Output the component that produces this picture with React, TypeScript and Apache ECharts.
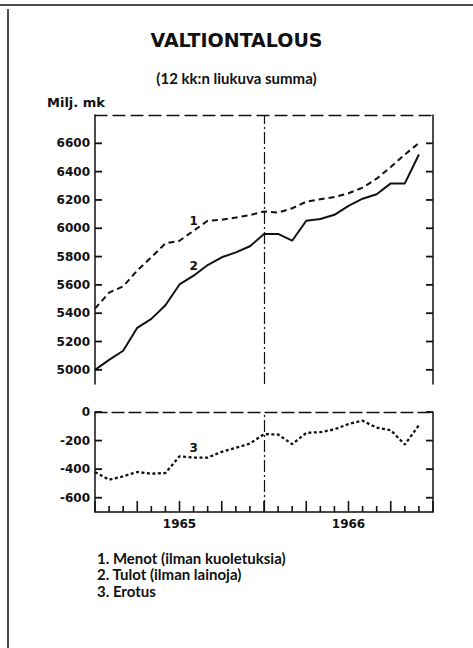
import React, { useEffect, useRef } from "react";
import * as echarts from "echarts";

// Month index 0 = end of Dec 1964 ... 23 = end of Nov 1966
const menot = [5433, 5545, 5590, 5702, 5795, 5893, 5912, 5982, 6053, 6060, 6076, 6093, 6118, 6111, 6141, 6188, 6205, 6221, 6247, 6287, 6350, 6432, 6521, 6602];
const tulot = [5000, 5070, 5135, 5297, 5360, 5456, 5603, 5665, 5740, 5795, 5830, 5873, 5959, 5960, 5912, 6053, 6065, 6095, 6158, 6209, 6240, 6317, 6317, 6521];
const erotus = [-420, -474, -450, -420, -432, -427, -310, -319, -319, -279, -251, -221, -155, -157, -225, -146, -141, -122, -84, -61, -110, -127, -228, -92];

const seriesNames = ["1. Menot (ilman kuoletuksia)", "2. Tulot (ilman lainoja)", "3. Erotus"];
const seriesTags = ["1", "2", "3"];
const upperTicks = [5000, 5200, 5400, 5600, 5800, 6000, 6200, 6400, 6600];
const lowerTicks = [-600, -400, -200, 0];
const monthTicks = [0, 1, 2, 3, 4, 5, 6, 7, 8, 9, 10, 11, 12, 13, 14, 15, 16, 17, 18, 19, 20, 21, 22, 23, 24];
const quarterTicks = [0, 3, 6, 9, 12, 15, 18, 21, 24];
const yearLabels = ["1965", "1966"];
const yearCenters = [6, 18];
const yearBoundary = 12;
const labelIndex = 7;

const INK = "#111";
const NUM_FONT = "DejaVu Sans";
const TXT_FONT = "Lato";

function toData(values: number[], tag: string) {
  return values.map((v, i) =>
    i === labelIndex
      ? {
          value: [i, v],
          label: {
            show: true,
            formatter: tag,
            position: "top",
            distance: 4,
            fontFamily: NUM_FONT,
            fontWeight: "bold",
            fontSize: 12,
            color: INK,
          },
        }
      : [i, v]
  );
}

const markLineCfg = {
  silent: true,
  symbol: ["none", "none"],
  label: { show: false },
  lineStyle: { color: INK, width: 1.2, type: [12, 3, 2, 3] },
  data: [{ xAxis: yearBoundary }],
};

const frameGraphic = [
  { id: "frameTop", type: "line", shape: { x1: 0, y1: 5, x2: 473, y2: 5 }, style: { stroke: INK, lineWidth: 1.5 } },
  { id: "frameLeft", type: "line", shape: { x1: 8, y1: 9, x2: 8, y2: 648 }, style: { stroke: INK, lineWidth: 1.5 } },
];

export default function App() {
  const ref = useRef<HTMLDivElement>(null);
  useEffect(() => {
    if (!ref.current) return;
    const chart = echarts.init(ref.current, undefined, { renderer: "svg" });

    const yMain = (gridIndex: number, pos: string, min: number, max: number, splitNumber: number, ticks: number[], showLabels: boolean) => ({
      type: "value",
      gridIndex,
      position: pos,
      min,
      max,
      splitNumber,
      axisLine: { show: true, onZero: false, lineStyle: { color: INK, width: 1.5 } },
      axisTick: { show: false },
      axisLabel: {
        show: showLabels,
        showMinLabel: true,
        showMaxLabel: true,
        margin: 5,
        formatter: (v: number) => (ticks.indexOf(v) >= 0 ? String(v) : ""),
        fontFamily: NUM_FONT,
        fontWeight: "bold",
        fontSize: 12,
        color: INK,
      },
      splitLine: { show: false },
    });

    chart.setOption({
      animation: false,
      backgroundColor: "#fff",
      title: [
        {
          text: "VALTIONTALOUS",
          left: "center",
          top: 30,
          padding: 0,
          textStyle: { fontFamily: NUM_FONT, fontWeight: "bold", fontSize: 19, color: INK },
        },
        {
          text: "(12 kk:n liukuva summa)",
          left: "center",
          top: 70,
          padding: 0,
          textStyle: { fontFamily: TXT_FONT, fontWeight: "bold", fontSize: 15, color: INK },
        },
        {
          text: "Milj. mk",
          left: 47,
          top: 96,
          padding: 0,
          textStyle: { fontFamily: NUM_FONT, fontWeight: "bold", fontSize: 13, color: INK },
        },
      ],
      legend: {
        data: seriesNames,
        orient: "vertical",
        left: 92,
        top: 550,
        padding: 0,
        itemWidth: 0,
        itemHeight: 14,
        itemGap: 1.5,
        icon: "rect",
        selectedMode: false,
        textStyle: { fontFamily: TXT_FONT, fontWeight: "bold", fontSize: 15, lineHeight: 15, color: INK },
      },
      graphic: frameGraphic,
      grid: [
        { left: 95, right: 40, top: 115, height: 269 },
        { left: 95, right: 40, top: 412, height: 100 },
      ],
      xAxis: [
        {
          type: "value",
          gridIndex: 0,
          position: "top",
          min: 0,
          max: 24,
          axisLine: { show: true, onZero: false, lineStyle: { color: INK, width: 1.3, type: [12, 6] } },
          axisTick: { show: false },
          axisLabel: { show: false },
          splitLine: { show: false },
        },
        {
          type: "value",
          gridIndex: 1,
          position: "bottom",
          min: 0,
          max: 24,
          interval: 3,
          axisLine: { show: true, onZero: false, lineStyle: { color: INK, width: 1.5 } },
          axisTick: { show: false },
          axisLabel: {
            show: true,
            margin: 6,
            formatter: (v: number) => {
              const idx = yearCenters.indexOf(v);
              return idx >= 0 ? yearLabels[idx] : "";
            },
            fontFamily: NUM_FONT,
            fontWeight: "bold",
            fontSize: 12,
            color: INK,
          },
          splitLine: { show: false },
        },
        {
          type: "value",
          gridIndex: 1,
          position: "top",
          min: 0,
          max: 24,
          axisLine: { show: true, onZero: false, lineStyle: { color: INK, width: 1.3, type: [12, 5] } },
          axisTick: { show: false },
          axisLabel: { show: false },
          splitLine: { show: false },
        },
      ],
      yAxis: [
        yMain(0, "left", 4900, 6800, 9, upperTicks, true),
        yMain(0, "right", 4900, 6800, 9, upperTicks, false),
        yMain(1, "left", -700, 0, 4, lowerTicks, true),
        yMain(1, "right", -700, 0, 4, lowerTicks, false),
      ],
      series: [
        {
          name: seriesNames[0],
          type: "line",
          xAxisIndex: 0,
          yAxisIndex: 0,
          data: toData(menot, seriesTags[0]),
          symbol: "circle",
          symbolSize: 0,
          showSymbol: true,
          clip: false,
          itemStyle: { color: INK },
          lineStyle: { color: INK, width: 2, type: [6, 4] },
          markLine: markLineCfg,
        },
        {
          name: seriesNames[1],
          type: "line",
          xAxisIndex: 0,
          yAxisIndex: 0,
          data: toData(tulot, seriesTags[1]),
          symbol: "circle",
          symbolSize: 0,
          showSymbol: true,
          clip: false,
          itemStyle: { color: INK },
          lineStyle: { color: INK, width: 2 },
        },
        {
          name: seriesNames[2],
          type: "line",
          xAxisIndex: 1,
          yAxisIndex: 2,
          data: toData(erotus, seriesTags[2]),
          symbol: "circle",
          symbolSize: 0,
          showSymbol: true,
          clip: false,
          itemStyle: { color: INK },
          lineStyle: { color: INK, width: 2.3, type: [3, 2.5] },
          markLine: markLineCfg,
        },
      ],
    });

    // Inward tick marks, positioned through the chart's own scales
    const tickGraphic: any[] = [];
    const st = { stroke: INK, lineWidth: 1.8 };
    const addYTicks = (seriesIndex: number, ticks: number[], key: string) => {
      ticks.forEach((v, i) => {
        const pl = chart.convertToPixel({ seriesIndex }, [0, v]) as number[] | undefined;
        const pr = chart.convertToPixel({ seriesIndex }, [24, v]) as number[] | undefined;
        if (!pl || !pr) return;
        tickGraphic.push({ id: `${key}L${i}`, type: "line", shape: { x1: pl[0], y1: pl[1], x2: pl[0] + 7, y2: pl[1] }, style: st, z: 50 });
        tickGraphic.push({ id: `${key}R${i}`, type: "line", shape: { x1: pr[0], y1: pr[1], x2: pr[0] - 7, y2: pr[1] }, style: st, z: 50 });
      });
    };
    addYTicks(0, upperTicks, "u");
    addYTicks(2, lowerTicks, "l");
    monthTicks.forEach((m, i) => {
      const p = chart.convertToPixel({ seriesIndex: 2 }, [m, -700]) as number[] | undefined;
      if (!p) return;
      const len = quarterTicks.indexOf(m) >= 0 ? 11 : 6;
      tickGraphic.push({ id: `m${i}`, type: "line", shape: { x1: p[0], y1: p[1], x2: p[0], y2: p[1] - len }, style: { stroke: INK, lineWidth: 1.6 }, z: 50 });
    });
    chart.setOption({ graphic: [...frameGraphic, ...tickGraphic] });

    return () => chart.dispose();
  }, []);
  return (
    <div
      ref={ref}
      style={{ position: "fixed", left: 0, top: 0, width: 473, height: 648, background: "#fff" }}
    />
  );
}
